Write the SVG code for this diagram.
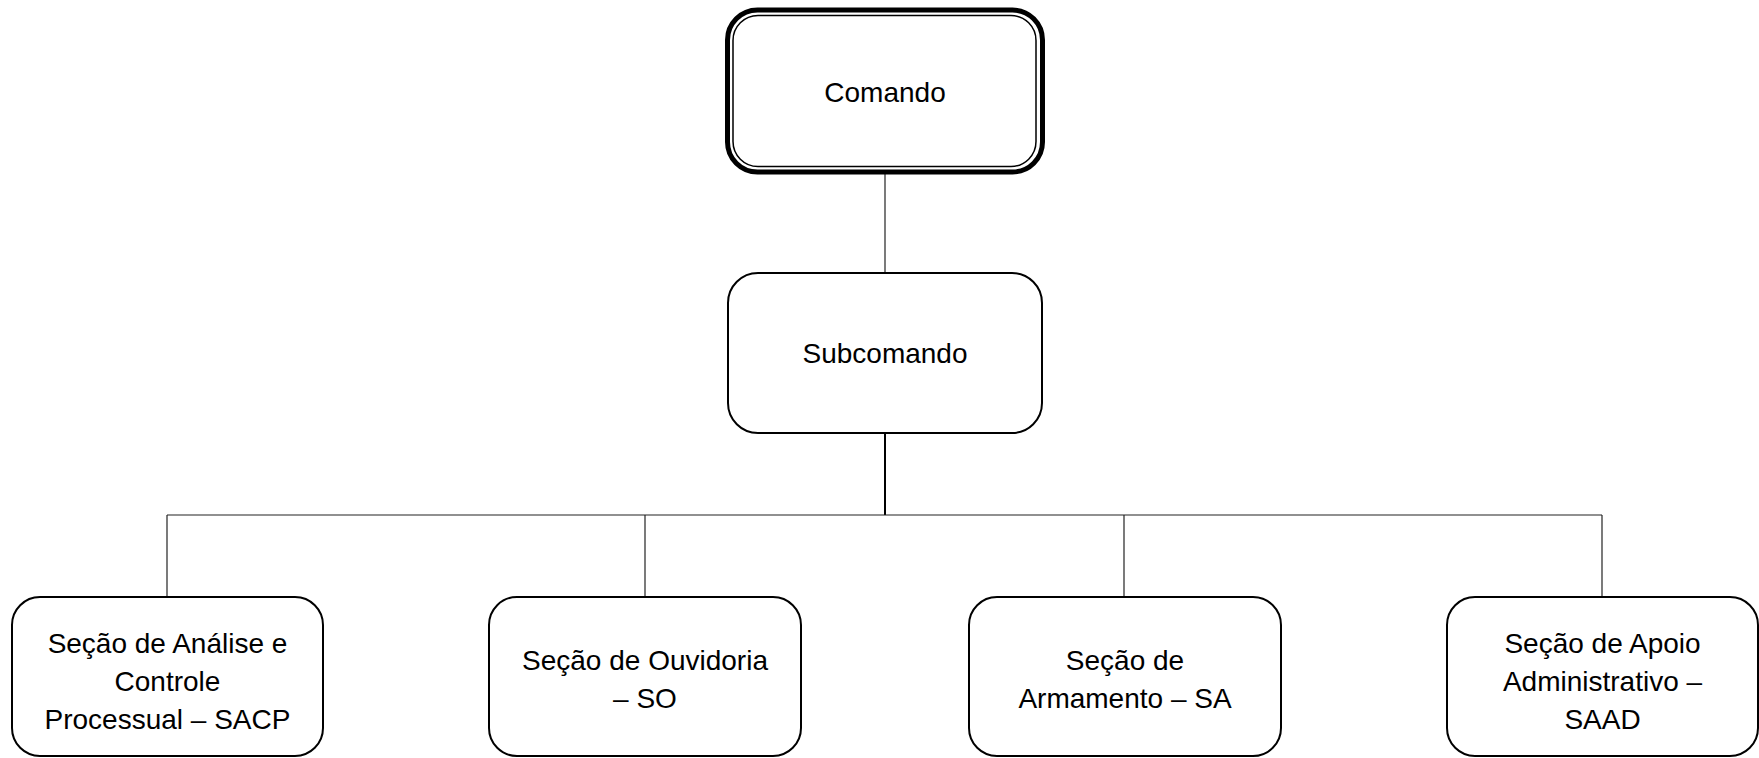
<svg xmlns="http://www.w3.org/2000/svg" width="1759" height="758" viewBox="0 0 1759 758">
<style>
.box{fill:#fff;stroke:#000;stroke-width:2}
.t{font-family:"Liberation Sans",Arial,sans-serif;font-size:28px;fill:#000;text-anchor:middle}
.c{stroke:#222;stroke-width:1.2;fill:none}
</style>
<rect width="1759" height="758" fill="#fff"/>
<g id="connectors">
<line class="c" x1="885" y1="174" x2="885" y2="273"/>
<line class="c" x1="885" y1="433" x2="885" y2="515" style="stroke-width:2;stroke:#000"/>
<line class="c" x1="167" y1="515" x2="1602" y2="515"/>
<line class="c" x1="167" y1="515" x2="167" y2="597"/>
<line class="c" x1="645" y1="515" x2="645" y2="597"/>
<line class="c" x1="1124" y1="515" x2="1124" y2="597"/>
<line class="c" x1="1602" y1="515" x2="1602" y2="597"/>
</g>
<g id="comando">
<rect x="727.5" y="10" width="315" height="162" rx="30" fill="#fff" stroke="#000" stroke-width="5"/>
<rect x="733" y="15.5" width="303" height="151" rx="25" fill="none" stroke="#000" stroke-width="1.5"/>
<text class="t" x="885" y="102">Comando</text>
</g>
<g id="subcomando">
<rect class="box" x="728" y="273" width="314" height="160" rx="30"/>
<text class="t" x="885" y="363">Subcomando</text>
</g>
<g id="sacp">
<rect class="box" x="12" y="597" width="311" height="159" rx="28"/>
<text class="t" x="167.5" y="653">Seção de Análise e</text>
<text class="t" x="167.5" y="691">Controle</text>
<text class="t" x="167.5" y="729">Processual – SACP</text>
</g>
<g id="so">
<rect class="box" x="489" y="597" width="312" height="159" rx="28"/>
<text class="t" x="645" y="670">Seção de Ouvidoria</text>
<text class="t" x="645" y="708">– SO</text>
</g>
<g id="sa">
<rect class="box" x="969" y="597" width="312" height="159" rx="28"/>
<text class="t" x="1125" y="670">Seção de</text>
<text class="t" x="1125" y="708">Armamento – SA</text>
</g>
<g id="saad">
<rect class="box" x="1447" y="597" width="311" height="159" rx="28"/>
<text class="t" x="1602.5" y="653">Seção de Apoio</text>
<text class="t" x="1602.5" y="691">Administrativo –</text>
<text class="t" x="1602.5" y="729">SAAD</text>
</g>
</svg>
